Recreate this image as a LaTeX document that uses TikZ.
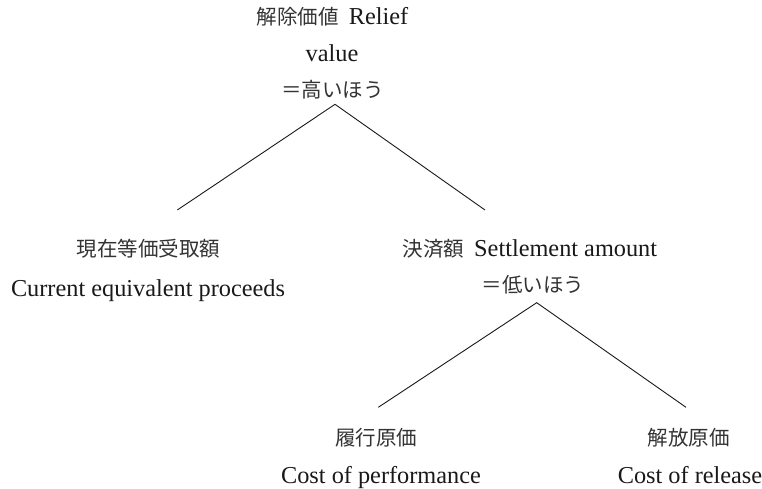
\documentclass[tikz,border=0pt]{standalone}
\usepackage{fontspec}
\setmainfont{Liberation Serif}
\newfontfamily\jpfont{Noto Sans CJK JP}
\newcommand{\jpt}[1]{{\fontsize{20.5}{25}\selectfont\jpfont\color{black!80}#1}}
\tikzset{
  lbl/.style={inner sep=0pt, anchor=base, text=black!90, font=\fontsize{24.3}{28}\selectfont},
  branch/.style={draw=black!90, line width=0.9pt},
}
\begin{document}
\begin{tikzpicture}[x=1pt,y=-1pt]
\useasboundingbox (0,0) rectangle (762,488);
% top
\node[lbl] (t1) at (332.5,24) {\jpt{解除価値}\hspace{10pt}Relief};
\node[lbl] (t2) at (332,61.7) {value};
\node[lbl] (t3) at (332.5,97.5) {\jpt{＝高いほう}};
% left
\node[lbl] (l1) at (148.5,256.5) {\jpt{現在等価受取額}};
\node[lbl] (l2) at (148,296) {Current equivalent proceeds};
% middle
\node[lbl, anchor=base west] (m1) at (402.5,256.7) {\jpt{決済額}\hspace{10pt}Settlement amount};
\node[lbl] (m2) at (533,292.5) {\jpt{＝低いほう}};
% bottom left
\node[lbl] (b1) at (376,445.5) {\jpt{履行原価}};
\node[lbl] (b2) at (381,483.5) {Cost of performance};
% bottom right
\node[lbl] (c1) at (688.5,445.5) {\jpt{解放原価}};
\node[lbl] (c2) at (690,483.5) {Cost of release};
% branches
\coordinate (a1) at (335,104.3);
\coordinate (a1l) at (177.3,210);
\coordinate (a1r) at (485,210);
\coordinate (a2) at (536.7,302.7);
\coordinate (a2l) at (378.3,407.3);
\coordinate (a2r) at (686,407.3);
\draw[branch] (a1l) -- (a1) -- (a1r);
\draw[branch] (a2l) -- (a2) -- (a2r);
\end{tikzpicture}
\end{document}
